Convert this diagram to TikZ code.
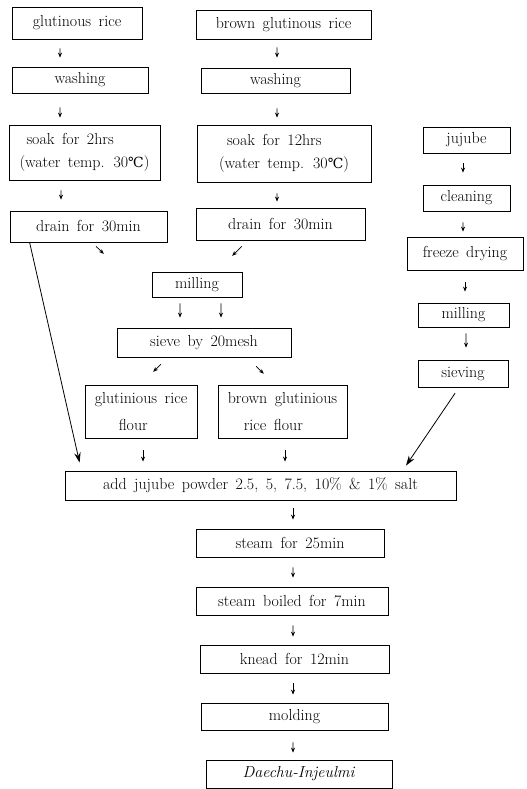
\documentclass[tikz,border=0pt]{standalone}
\usepackage{fontspec}
\usetikzlibrary{arrows.meta}
\newfontfamily\degfont{DejaVu Serif}
\newcommand\flowfont{\fontsize{16}{23}\selectfont\spaceskip=7.5bp plus 2bp minus 1bp\relax}
\newcommand\degC{{\degfont\fontsize{14}{23}\selectfont ℃}}
\begin{document}
\begin{tikzpicture}[x=1bp, y=-1bp,
  box/.style={draw, line width=0.8bp, inner xsep=1bp, inner ysep=0pt, font=\flowfont},
  flow/.style={-{Stealth[length=5bp,width=4bp]}, line width=0.7bp},
  feed/.style={-{Stealth[length=10bp,width=6.5bp]}, line width=0.8bp}]
  \fill[white] (0,0) rectangle (527,789);
  \useasboundingbox (0,0) rectangle (527,789);

  % glutinous rice
  \node[box, minimum width=130bp, minimum height=32bp] (rice) at (77,23) {glutinous rice};
  \node[box, minimum width=136bp, minimum height=26bp] (wash1) at (80,80) {washing};
  \node[box, minimum width=151bp, minimum height=55bp, align=left] (soak1) at (84.5,152.5)
    {\hspace*{7bp}soak for 2hrs\\(water temp. 30\degC)};
  \node[box, minimum width=157bp, minimum height=31bp] (drain1) at (88.5,226.5) {drain for 30min};

  % brown glutinous rice
  \node[box, minimum width=175bp, minimum height=29bp] (brown) at (283.5,24.5) {brown glutinous rice};
  \node[box, minimum width=149bp, minimum height=25bp] (wash2) at (275.5,80.5) {washing};
  \node[box, minimum width=174bp, minimum height=57bp, align=left] (soak2) at (284,153.5)
    {\hspace*{8bp}soak for 12hrs\\(water temp. 30\degC)};
  \node[box, minimum width=169bp, minimum height=32bp] (drain2) at (280.5,224) {drain for 30min};

  % jujube
  \node[box, minimum width=87bp, minimum height=26bp] (jujube) at (466.5,140) {jujube};
  \node[box, minimum width=87bp, minimum height=26bp] (clean) at (466.5,198) {cleaning};
  \node[box, minimum width=116bp, minimum height=33bp] (freeze) at (465,253.5) {freeze drying};
  \node[box, minimum width=91bp, minimum height=24bp] (mill2) at (463.5,315) {milling};
  \node[box, minimum width=90bp, minimum height=27bp] (sieving) at (463,373.5) {sieving};

  % flours
  \node[box, minimum width=90bp, minimum height=25bp] (mill1) at (197,284.5) {milling};
  \node[box, minimum width=174bp, minimum height=29bp] (sieve) at (204,342.5) {sieve by 20mesh};
  \node[box, minimum width=112bp, minimum height=53bp, align=left] (flour1) at (141,411.5)
    {glutinious rice\\[5bp]\hspace*{24bp}flour};
  \node[box, minimum width=129bp, minimum height=53bp, align=left] (flour2) at (282.5,411.5)
    {brown glutinious\\[5bp]\hspace*{16bp}rice flour};

  % mixing and steaming
  \node[box, minimum width=391bp, minimum height=29bp] (add) at (260.5,485.5)
    {add jujube powder 2.5, 5, 7.5, 10\% \& 1\% salt};
  \node[box, minimum width=188bp, minimum height=28bp] (steam) at (290,543) {steam for 25min};
  \node[box, minimum width=192bp, minimum height=28bp] (boil) at (292,601) {steam boiled for 7min};
  \node[box, minimum width=189bp, minimum height=28bp] (knead) at (294.5,659) {knead for 12min};
  \node[box, minimum width=187bp, minimum height=27bp] (mold) at (294.5,716.5) {molding};
  \node[box, minimum width=186bp, minimum height=28bp] (final) at (299,774) {\textit{Daechu-Injeulmi}};

  \draw[flow, shorten <=9bp, shorten >=9bp] ([xshift=-17bp]rice.south) -- ([xshift=-20bp]wash1.north);
  \draw[flow, shorten <=14bp, shorten >=7bp] ([xshift=-20bp]wash1.south) -- ([xshift=-24.5bp]soak1.north);
  \draw[flow, shorten <=10bp, shorten >=11bp] ([xshift=-23.5bp]soak1.south) -- ([xshift=-27.5bp]drain1.north);

  \draw[flow, shorten <=8bp, shorten >=10bp] ([xshift=-6.5bp]brown.south) -- ([xshift=1.5bp]wash2.north);
  \draw[flow, shorten <=15bp, shorten >=7bp] ([xshift=1.5bp]wash2.south) -- ([xshift=-7bp]soak2.north);
  \draw[flow, shorten <=11bp, shorten >=6bp] ([xshift=-7bp]soak2.south) -- ([xshift=-3.5bp]drain2.north);

  \draw[flow, shorten <=10bp, shorten >=12bp] ([xshift=-3.5bp]jujube.south) -- ([xshift=-3.5bp]clean.north);
  \draw[flow, shorten <=11bp, shorten >=5bp] ([xshift=-3.5bp]clean.south) -- ([xshift=-2bp]freeze.north);
  \draw[flow, shorten <=12bp, shorten >=11bp] (freeze.south) -- ([xshift=1.5bp]mill2.north);
  \draw[flow, shorten <=6bp, shorten >=12bp] ([xshift=2.5bp]mill2.south) -- ([xshift=3bp]sieving.north);

  \draw[flow, shorten <=5.7bp, shorten >=25.4bp] ([xshift=3.5bp]drain1.south) -- ([xshift=-75bp]mill1.north);
  \draw[flow, shorten <=8.5bp, shorten >=22.6bp] ([xshift=-32.5bp]drain2.south) -- ([xshift=19bp]mill1.north);
  \draw[flow, shorten <=6bp, shorten >=10bp] ([xshift=-17bp]mill1.south) -- ([xshift=-24bp]sieve.north);
  \draw[flow, shorten <=6bp, shorten >=10bp] ([xshift=24bp]mill1.south) -- ([xshift=17bp]sieve.north);
  \draw[flow, shorten <=9.9bp, shorten >=18.4bp] ([xshift=-36bp]sieve.south) -- ([xshift=-1bp]flour1.north);
  \draw[flow, shorten <=12.7bp, shorten >=15.6bp] ([xshift=43bp]sieve.south) -- ([xshift=-7.5bp]flour2.north);
  \draw[flow, shorten <=12bp, shorten >=9bp] ([xshift=2bp]flour1.south) -- ([xshift=2bp]flour1.south |- add.north);
  \draw[flow, shorten <=12bp, shorten >=9bp] ([xshift=2.5bp]flour2.south) -- ([xshift=2.5bp]flour2.south |- add.north);

  % long feeds into the mix
  \draw[feed] ([xshift=20bp]drain1.south west) -- ([xshift=15bp,yshift=8bp]add.north west);
  \draw[feed, shorten <=7bp] ([xshift=-4bp]sieving.south) -- ([xshift=145.5bp,yshift=5bp]add.north);

  \draw[flow, shorten <=8bp, shorten >=9bp] ([xshift=3bp]steam.north |- add.south) -- ([xshift=3bp]steam.north);
  \draw[flow, shorten <=10bp, shorten >=9bp] ([xshift=3bp]steam.south) -- ([xshift=1bp]boil.north);
  \draw[flow, shorten <=10bp, shorten >=8bp] ([xshift=1bp]boil.south) -- ([xshift=-1.5bp]knead.north);
  \draw[flow, shorten <=10bp, shorten >=8bp] ([xshift=-1.5bp]knead.south) -- ([xshift=-1.5bp]mold.north);
  \draw[flow, shorten <=12bp, shorten >=7bp] ([xshift=-1.5bp]mold.south) -- ([xshift=-6bp]final.north);
\end{tikzpicture}
\end{document}
